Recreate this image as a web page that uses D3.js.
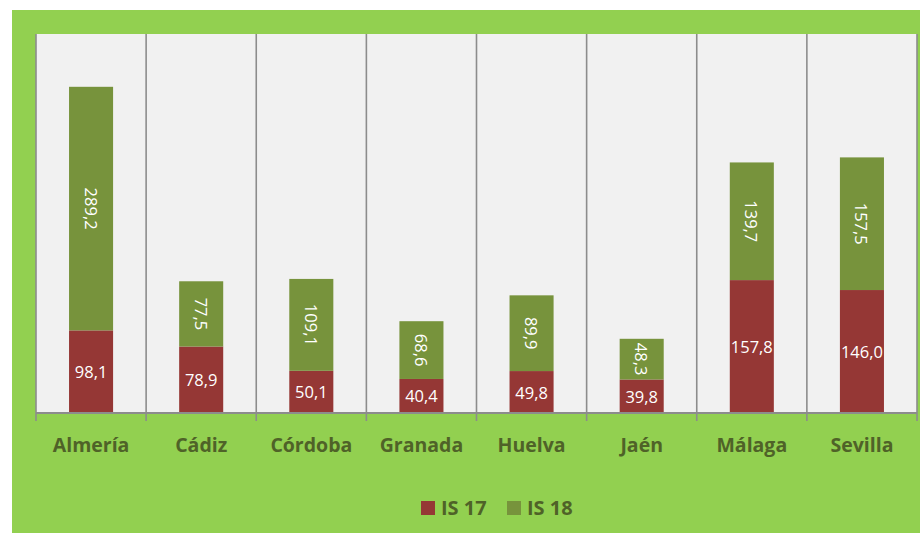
<!DOCTYPE html>
<html>
<head>
<meta charset="utf-8">
<script src="https://cdn.jsdelivr.net/npm/d3@7"></script>
<style>
  html, body { margin: 0; padding: 0; background: #ffffff; }
  svg { display: block; }
  text { font-family: "Open Sans", "DejaVu Sans", sans-serif; }
</style>
</head>
<body>
<svg id="chart" width="920" height="533"></svg>
<script>
const categories = ["Almería", "Cádiz", "Córdoba", "Granada", "Huelva", "Jaén", "Málaga", "Sevilla"];
const is17 = [98.1, 78.9, 50.1, 40.4, 49.8, 39.8, 157.8, 146.0];
const is18 = [289.2, 77.5, 109.1, 68.6, 89.9, 48.3, 139.7, 157.5];
const seriesNames = ["IS 17", "IS 18"];
const seriesColors = ["#953735", "#77933c"];

const svg = d3.select("#chart");
const W = 920, H = 533;
const plot = { x0: 36, x1: 917, y0: 34, y1: 413 };

// backgrounds
svg.append("rect").attr("x", 12).attr("y", 10).attr("width", W - 12).attr("height", H - 10).attr("fill", "#92d050");
svg.append("rect").attr("x", plot.x0).attr("y", plot.y0).attr("width", plot.x1 - plot.x0).attr("height", plot.y1 - plot.y0).attr("fill", "#f1f1f1");

const x = d3.scaleBand().domain(categories).range([plot.x0, plot.x1]).paddingInner(0.6).paddingOuter(0.3);
const y = d3.scaleLinear().domain([0, 450]).range([plot.y1, plot.y0]);

const data = categories.map((c, i) => ({ cat: c, "IS 17": is17[i], "IS 18": is18[i] }));
const stacked = d3.stack().keys(seriesNames)(data);

// vertical gridlines at category boundaries (incl. ticks below axis)
const step = x.step();
const bounds = d3.range(categories.length + 1).map(i => plot.x0 + i * step);
svg.append("g").selectAll("line").data(bounds).join("line")
  .attr("x1", d => d).attr("x2", d => d)
  .attr("y1", plot.y0).attr("y2", plot.y1 + 8)
  .attr("stroke", "#8c8c8c").attr("stroke-width", 1.6);

// bars
const layers = svg.append("g").selectAll("g").data(stacked).join("g")
  .attr("fill", (d, i) => seriesColors[i]);
layers.selectAll("rect").data(d => d).join("rect")
  .attr("x", d => x(d.data.cat))
  .attr("width", x.bandwidth())
  .attr("y", d => y(d[1]))
  .attr("height", d => y(d[0]) - y(d[1]));

// axis baseline
svg.append("line").attr("x1", plot.x0).attr("x2", plot.x1).attr("y1", plot.y1).attr("y2", plot.y1)
  .attr("stroke", "#8c8c8c").attr("stroke-width", 2);

const fmt = v => v.toFixed(1).replace(".", ",");

// labels IS 17 (horizontal)
svg.append("g").selectAll("text").data(stacked[0]).join("text")
  .attr("x", d => x(d.data.cat) + x.bandwidth() / 2)
  .attr("y", d => (y(d[0]) + y(d[1])) / 2)
  .attr("text-anchor", "middle").attr("dominant-baseline", "central")
  .attr("fill", "#ffffff").attr("font-size", 16.5)
  .text(d => fmt(d[1] - d[0]));

// labels IS 18 (rotated)
svg.append("g").selectAll("text").data(stacked[1]).join("text")
  .attr("transform", d => `translate(${x(d.data.cat) + x.bandwidth() / 2},${(y(d[0]) + y(d[1])) / 2}) rotate(90)`)
  .attr("text-anchor", "middle").attr("dominant-baseline", "central")
  .attr("fill", "#ffffff").attr("font-size", 16.5)
  .text(d => fmt(d[1] - d[0]));

// category labels
const xAxis = d3.axisBottom(x).tickSize(0).tickPadding(0);
const gx = svg.append("g").attr("transform", `translate(0,${plot.y1})`).call(xAxis);
gx.select(".domain").remove();
gx.selectAll("text")
  .attr("y", 32).attr("dy", "0.35em")
  .attr("font-family", "'Open Sans', sans-serif")
  .attr("font-size", 19.5).attr("font-weight", "bold").attr("fill", "#4f6228");

// legend
const legendItems = [{ name: seriesNames[0], color: seriesColors[0], x: 421 }, { name: seriesNames[1], color: seriesColors[1], x: 507 }];
const lg = svg.append("g").selectAll("g").data(legendItems).join("g")
  .attr("transform", d => `translate(${d.x},501)`);
lg.append("rect").attr("width", 14).attr("height", 14).attr("fill", d => d.color);
lg.append("text").attr("x", 20).attr("y", 7).attr("dy", "0.35em")
  .attr("font-size", 20).attr("font-weight", "bold").attr("fill", "#4f6228")
  .text(d => d.name);
</script>
</body>
</html>
